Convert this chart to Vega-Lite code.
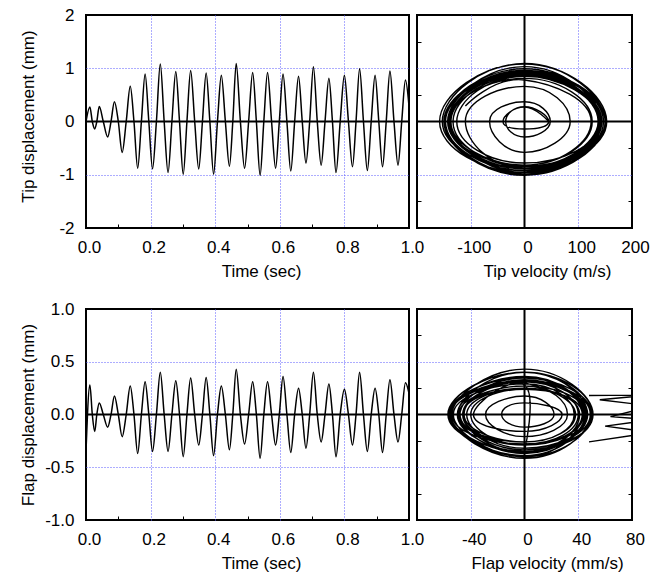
{
  "$schema": "https://vega.github.io/schema/vega-lite/v6.json",
  "padding": {"left": 18, "top": 5, "right": 0, "bottom": 0},
  "background": "white",
  "bounds": "flush",
  "columns": 2,
  "spacing": {"row": 81, "column": 8},
  "config": {
    "font": "Liberation Sans",
    "view": {"stroke": "black", "strokeWidth": 2},
    "axis": {
      "labelFontSize": 17, "titleFontSize": 17, "titleFontWeight": "normal",
      "labelColor": "black", "titleColor": "black", "domain": false,
      "gridColor": "#5a5aff", "gridDash": [1, 2], "gridWidth": 1,
      "tickColor": "black", "tickSize": -4, "tickWidth": 1,
      "labelOverlap": false, "labelFlush": false
    }
  },
  "datasets": {
    "d": [
      {"t": 0, "tip": 0, "tv": 45, "flap": -0.35, "fv": 0},
      {"t": 0.012, "tip": 0.27, "tv": 0, "flap": 0.28, "fv": 0},
      {"t": 0.0195, "tip": 0, "tv": -40, "flap": 0, "fv": -38},
      {"t": 0.027, "tip": -0.14, "tv": 0, "flap": -0.16, "fv": 0},
      {"t": 0.0335, "tip": 0, "tv": 45, "flap": 0, "fv": 28},
      {"t": 0.041, "tip": 0.28, "tv": 0, "flap": 0.11, "fv": 0},
      {"t": 0.0535, "tip": 0, "tv": -35, "flap": 0, "fv": -17},
      {"t": 0.067, "tip": -0.29, "tv": 0, "flap": -0.12, "fv": 0},
      {"t": 0.0775, "tip": 0, "tv": 48, "flap": 0, "fv": 22},
      {"t": 0.088, "tip": 0.37, "tv": 0, "flap": 0.175, "fv": 0},
      {"t": 0.1, "tip": 0, "tv": -65, "flap": 0, "fv": -29},
      {"t": 0.112, "tip": -0.58, "tv": 0, "flap": -0.21, "fv": 0},
      {"t": 0.1245, "tip": 0, "tv": 85, "flap": 0, "fv": 32},
      {"t": 0.137, "tip": 0.66, "tv": 0, "flap": 0.27, "fv": 0},
      {"t": 0.1485, "tip": 0, "tv": -110, "flap": 0, "fv": -49},
      {"t": 0.16, "tip": -0.88, "tv": 0, "flap": -0.37, "fv": 0},
      {"t": 0.1715, "tip": 0, "tv": 137, "flap": 0, "fv": 46},
      {"t": 0.183, "tip": 0.89, "tv": 0, "flap": 0.31, "fv": 0},
      {"t": 0.1945, "tip": 0, "tv": -138, "flap": 0, "fv": -50},
      {"t": 0.206, "tip": -0.89, "tv": 0, "flap": -0.35, "fv": 0},
      {"t": 0.218, "tip": 0, "tv": 153, "flap": 0, "fv": 51},
      {"t": 0.23, "tip": 1.08, "tv": 0, "flap": 0.4, "fv": 0},
      {"t": 0.242, "tip": 0, "tv": -158, "flap": 0, "fv": -57},
      {"t": 0.254, "tip": -0.96, "tv": 0, "flap": -0.35, "fv": 0},
      {"t": 0.266, "tip": 0, "tv": 147, "flap": 0, "fv": 45},
      {"t": 0.278, "tip": 0.94, "tv": 0, "flap": 0.32, "fv": 0},
      {"t": 0.2895, "tip": 0, "tv": -150, "flap": 0, "fv": -55},
      {"t": 0.301, "tip": -0.99, "tv": 0, "flap": -0.4, "fv": 0},
      {"t": 0.3125, "tip": 0, "tv": 151, "flap": 0, "fv": 50},
      {"t": 0.324, "tip": 0.96, "tv": 0, "flap": 0.345, "fv": 0},
      {"t": 0.3365, "tip": 0, "tv": -143, "flap": 0, "fv": -48},
      {"t": 0.349, "tip": -0.89, "tv": 0, "flap": -0.29, "fv": 0},
      {"t": 0.3605, "tip": 0, "tv": 140, "flap": 0, "fv": 43},
      {"t": 0.372, "tip": 0.91, "tv": 0, "flap": 0.35, "fv": 0},
      {"t": 0.3835, "tip": 0, "tv": -147, "flap": 0, "fv": -56},
      {"t": 0.395, "tip": -0.99, "tv": 0, "flap": -0.39, "fv": 0},
      {"t": 0.407, "tip": 0, "tv": 144, "flap": 0, "fv": 45},
      {"t": 0.419, "tip": 0.87, "tv": 0, "flap": 0.27, "fv": 0},
      {"t": 0.4315, "tip": 0, "tv": -133, "flap": 0, "fv": -46},
      {"t": 0.444, "tip": -0.84, "tv": 0, "flap": -0.335, "fv": 0},
      {"t": 0.4545, "tip": 0, "tv": 150, "flap": 0, "fv": 51},
      {"t": 0.465, "tip": 1.09, "tv": 0, "flap": 0.43, "fv": 0},
      {"t": 0.478, "tip": 0, "tv": -153, "flap": 0, "fv": -54},
      {"t": 0.491, "tip": -0.88, "tv": 0, "flap": -0.28, "fv": 0},
      {"t": 0.5035, "tip": 0, "tv": 140, "flap": 0, "fv": 40},
      {"t": 0.516, "tip": 0.92, "tv": 0, "flap": 0.31, "fv": 0},
      {"t": 0.5275, "tip": 0, "tv": -150, "flap": 0, "fv": -55},
      {"t": 0.539, "tip": -1.01, "tv": 0, "flap": -0.415, "fv": 0},
      {"t": 0.5505, "tip": 0, "tv": 150, "flap": 0, "fv": 49},
      {"t": 0.562, "tip": 0.92, "tv": 0, "flap": 0.31, "fv": 0},
      {"t": 0.5745, "tip": 0, "tv": -140, "flap": 0, "fv": -46},
      {"t": 0.587, "tip": -0.88, "tv": 0, "flap": -0.29, "fv": 0},
      {"t": 0.5985, "tip": 0, "tv": 137, "flap": 0, "fv": 44},
      {"t": 0.61, "tip": 0.89, "tv": 0, "flap": 0.36, "fv": 0},
      {"t": 0.622, "tip": 0, "tv": -141, "flap": 0, "fv": -55},
      {"t": 0.634, "tip": -0.93, "tv": 0, "flap": -0.36, "fv": 0},
      {"t": 0.646, "tip": 0, "tv": 138, "flap": 0, "fv": 41},
      {"t": 0.658, "tip": 0.85, "tv": 0, "flap": 0.25, "fv": 0},
      {"t": 0.6695, "tip": 0, "tv": -126, "flap": 0, "fv": -43},
      {"t": 0.681, "tip": -0.78, "tv": 0, "flap": -0.32, "fv": 0},
      {"t": 0.6925, "tip": 0, "tv": 140, "flap": 0, "fv": 49},
      {"t": 0.704, "tip": 1.03, "tv": 0, "flap": 0.4, "fv": 0},
      {"t": 0.716, "tip": 0, "tv": -143, "flap": 0, "fv": -50},
      {"t": 0.728, "tip": -0.82, "tv": 0, "flap": -0.26, "fv": 0},
      {"t": 0.74, "tip": 0, "tv": 126, "flap": 0, "fv": 37},
      {"t": 0.752, "tip": 0.81, "tv": 0, "flap": 0.29, "fv": 0},
      {"t": 0.763, "tip": 0, "tv": -137, "flap": 0, "fv": -53},
      {"t": 0.774, "tip": -0.96, "tv": 0, "flap": -0.4, "fv": 0},
      {"t": 0.787, "tip": 0, "tv": 142, "flap": 0, "fv": 43},
      {"t": 0.8, "tip": 0.87, "tv": 0, "flap": 0.24, "fv": 0},
      {"t": 0.8125, "tip": 0, "tv": -133, "flap": 0, "fv": -40},
      {"t": 0.825, "tip": -0.85, "tv": 0, "flap": -0.29, "fv": 0},
      {"t": 0.836, "tip": 0, "tv": 143, "flap": 0, "fv": 47},
      {"t": 0.847, "tip": 0.99, "tv": 0, "flap": 0.4, "fv": 0},
      {"t": 0.859, "tip": 0, "tv": -148, "flap": 0, "fv": -57},
      {"t": 0.871, "tip": -0.92, "tv": 0, "flap": -0.35, "fv": 0},
      {"t": 0.883, "tip": 0, "tv": 139, "flap": 0, "fv": 41},
      {"t": 0.895, "tip": 0.87, "tv": 0, "flap": 0.25, "fv": 0},
      {"t": 0.9065, "tip": 0, "tv": -133, "flap": 0, "fv": -46},
      {"t": 0.918, "tip": -0.85, "tv": 0, "flap": -0.36, "fv": 0},
      {"t": 0.9295, "tip": 0, "tv": 140, "flap": 0, "fv": 47},
      {"t": 0.941, "tip": 0.95, "tv": 0, "flap": 0.33, "fv": 0},
      {"t": 0.9535, "tip": 0, "tv": -137, "flap": 0, "fv": -45},
      {"t": 0.966, "tip": -0.82, "tv": 0, "flap": -0.26, "fv": 0},
      {"t": 0.9775, "tip": 0, "tv": 124, "flap": 0, "fv": 38},
      {"t": 0.989, "tip": 0.78, "tv": 0, "flap": 0.3, "fv": 0},
      {"t": 1.0, "tip": 0.29, "tv": -110, "flap": 0.2, "fv": -34}
    ],
    "zz": [
      {"i": 0, "fv": 48, "flap": 0.18},
      {"i": 1, "fv": 95, "flap": 0.185},
      {"i": 2, "fv": 56, "flap": 0.14},
      {"i": 3, "fv": 95, "flap": 0.08},
      {"i": 4, "fv": 64, "flap": -0.02},
      {"i": 5, "fv": 95, "flap": -0.05},
      {"i": 6, "fv": 60, "flap": -0.11},
      {"i": 7, "fv": 95, "flap": -0.17},
      {"i": 8, "fv": 48, "flap": -0.26}
    ]
  },
  "concat": [
    {
      "width": 323, "height": 213,
      "layer": [
        {
          "data": {"name": "d"},
          "mark": {"type": "line", "interpolate": "monotone", "color": "black", "strokeWidth": 1.5, "clip": true},
          "encoding": {
            "x": {"field": "t", "type": "quantitative", "scale": {"domain": [0, 1], "nice": false, "zero": false},
              "axis": {"title": "Time (sec)", "values": [0, 0.1, 0.2, 0.3, 0.4, 0.5, 0.6, 0.7, 0.8, 0.9, 1],
                "labelExpr": "round(datum.value*10) % 2 == 1 ? '' : format(datum.value, '.1f')",
                "labelOffset": 3, "labelPadding": 15, "titlePadding": 8, "titleX": 175,
                "grid": true,
                "gridOpacity": {"condition": {"test": "round(datum.value*10) % 2 == 0 && datum.value > 0.05 && datum.value < 0.95", "value": 1}, "value": 0},
                "tickOpacity": {"condition": {"test": "round(datum.value*10) % 2 == 1", "value": 1}, "value": 0}}},
            "y": {"field": "tip", "type": "quantitative", "scale": {"domain": [-2, 2], "nice": false, "zero": false},
              "axis": {"title": "Tip displacement (mm)", "values": [-2, -1.5, -1, -0.5, 0, 0.5, 1, 1.5, 2],
                "labelExpr": "abs(datum.value) % 1 == 0.5 ? '' : toString(datum.value)",
                "labelPadding": 16, "minExtent": 40, "maxExtent": 40, "titlePadding": 9, "titleY": 101,
                "grid": true,
                "gridOpacity": {"condition": {"test": "abs(datum.value) == 1", "value": 1}, "value": 0},
                "tickOpacity": {"condition": {"test": "abs(datum.value) % 1 == 0.5", "value": 1}, "value": 0}}},
            "order": {"field": "t"}
          }
        },
        {
          "data": {"values": [{}]},
          "mark": {"type": "rule", "color": "black", "strokeWidth": 2},
          "encoding": {"y": {"datum": 0, "type": "quantitative"}}
        }
      ]
    },
    {
      "width": 215, "height": 213,
      "resolve": {"axis": {"y": "independent"}},
      "layer": [
        {
          "data": {"name": "d"},
          "mark": {"type": "line", "interpolate": "cardinal", "tension": -0.5, "color": "black", "strokeWidth": 1.4, "clip": true},
          "encoding": {
            "x": {"field": "tv", "type": "quantitative", "scale": {"domain": [-200, 200], "nice": false, "zero": false},
              "axis": {"title": "Tip velocity (m/s)", "values": [-200, -150, -100, -50, 0, 50, 100, 150, 200],
                "labelExpr": "abs(datum.value) % 100 == 50 || datum.value == -200 ? '' : toString(datum.value)",
                "labelOffset": 3, "labelPadding": 15, "titlePadding": 8, "titleX": 130,
                "grid": true,
                "gridOpacity": {"condition": {"test": "abs(datum.value) == 100", "value": 1}, "value": 0},
                "tickOpacity": {"condition": {"test": "abs(datum.value) % 100 == 50", "value": 1}, "value": 0}}},
            "y": {"field": "tip", "type": "quantitative", "scale": {"domain": [-2, 2], "nice": false, "zero": false},
              "axis": {"title": null, "labels": false, "orient": "left", "values": [-2, -1.5, -1, -0.5, 0, 0.5, 1, 1.5, 2],
                "grid": true,
                "gridOpacity": {"condition": {"test": "abs(datum.value) == 1", "value": 1}, "value": 0},
                "tickOpacity": {"condition": {"test": "abs(datum.value) % 1 == 0.5", "value": 1}, "value": 0}}},
            "order": {"field": "t"}
          }
        },
        {
          "data": {"values": [{}]},
          "mark": {"type": "rule", "color": "black", "strokeWidth": 2},
          "encoding": {"y": {"datum": 0, "type": "quantitative",
            "axis": {"title": null, "labels": false, "orient": "right", "grid": false, "values": [-1.5, -0.5, 0.5, 1.5]}}}
        },
        {
          "data": {"values": [{}]},
          "mark": {"type": "rule", "color": "black", "strokeWidth": 2},
          "encoding": {"x": {"datum": 0, "type": "quantitative"}}
        }
      ]
    },
    {
      "width": 323, "height": 211,
      "layer": [
        {
          "data": {"name": "d"},
          "mark": {"type": "line", "interpolate": "monotone", "color": "black", "strokeWidth": 1.5, "clip": true},
          "encoding": {
            "x": {"field": "t", "type": "quantitative", "scale": {"domain": [0, 1], "nice": false, "zero": false},
              "axis": {"title": "Time (sec)", "values": [0, 0.1, 0.2, 0.3, 0.4, 0.5, 0.6, 0.7, 0.8, 0.9, 1],
                "labelExpr": "round(datum.value*10) % 2 == 1 ? '' : format(datum.value, '.1f')",
                "labelOffset": 3, "labelPadding": 15, "titlePadding": 8, "titleX": 175,
                "grid": true,
                "gridOpacity": {"condition": {"test": "round(datum.value*10) % 2 == 0 && datum.value > 0.05 && datum.value < 0.95", "value": 1}, "value": 0},
                "tickOpacity": {"condition": {"test": "round(datum.value*10) % 2 == 1", "value": 1}, "value": 0}}},
            "y": {"field": "flap", "type": "quantitative", "scale": {"domain": [-1, 1], "nice": false, "zero": false},
              "axis": {"title": "Flap displacement (mm)", "values": [-1, -0.75, -0.5, -0.25, 0, 0.25, 0.5, 0.75, 1],
                "labelExpr": "round(abs(datum.value)*4) % 2 == 1 ? '' : (datum.value < 0 ? '-' : '') + format(abs(datum.value), '.1f')",
                "labelPadding": 16, "minExtent": 40, "maxExtent": 40, "titlePadding": 9,
                "grid": true,
                "gridOpacity": {"condition": {"test": "abs(datum.value) == 0.5", "value": 1}, "value": 0},
                "tickOpacity": {"condition": {"test": "round(abs(datum.value)*4) % 2 == 1", "value": 1}, "value": 0}}},
            "order": {"field": "t"}
          }
        },
        {
          "data": {"values": [{}]},
          "mark": {"type": "rule", "color": "black", "strokeWidth": 2},
          "encoding": {"y": {"datum": 0, "type": "quantitative"}}
        }
      ]
    },
    {
      "width": 215, "height": 211,
      "resolve": {"axis": {"y": "independent"}},
      "layer": [
        {
          "data": {"name": "d"},
          "mark": {"type": "line", "interpolate": "cardinal", "tension": -0.5, "color": "black", "strokeWidth": 1.4, "clip": true},
          "encoding": {
            "x": {"field": "fv", "type": "quantitative", "scale": {"domain": [-80, 80], "nice": false, "zero": false},
              "axis": {"title": "Flap velocity (mm/s)", "values": [-80, -60, -40, -20, 0, 20, 40, 60, 80],
                "labelExpr": "abs(datum.value) % 40 == 20 || datum.value == -80 ? '' : toString(datum.value)",
                "labelOffset": 3, "labelPadding": 15, "titlePadding": 8, "titleX": 130,
                "grid": true,
                "gridOpacity": {"condition": {"test": "abs(datum.value) == 40", "value": 1}, "value": 0},
                "tickOpacity": {"condition": {"test": "abs(datum.value) % 40 == 20", "value": 1}, "value": 0}}},
            "y": {"field": "flap", "type": "quantitative", "scale": {"domain": [-1, 1], "nice": false, "zero": false},
              "axis": {"title": null, "labels": false, "orient": "left", "values": [-1, -0.75, -0.5, -0.25, 0, 0.25, 0.5, 0.75, 1],
                "grid": true,
                "gridOpacity": {"condition": {"test": "abs(datum.value) == 0.5", "value": 1}, "value": 0},
                "tickOpacity": {"condition": {"test": "round(abs(datum.value)*4) % 2 == 1", "value": 1}, "value": 0}}},
            "order": {"field": "t"}
          }
        },
        {
          "data": {"name": "zz"},
          "mark": {"type": "line", "color": "black", "strokeWidth": 1.4, "clip": true},
          "encoding": {
            "x": {"field": "fv", "type": "quantitative"},
            "y": {"field": "flap", "type": "quantitative",
              "axis": {"title": null, "labels": false, "orient": "right", "grid": false, "values": [-0.75, -0.25, 0.25, 0.75]}},
            "order": {"field": "i"}
          }
        },
        {
          "data": {"values": [{}]},
          "mark": {"type": "rule", "color": "black", "strokeWidth": 2},
          "encoding": {"y": {"datum": 0, "type": "quantitative", "axis": null}}
        },
        {
          "data": {"values": [{}]},
          "mark": {"type": "rule", "color": "black", "strokeWidth": 2},
          "encoding": {"x": {"datum": 0, "type": "quantitative"}}
        }
      ]
    }
  ]
}
